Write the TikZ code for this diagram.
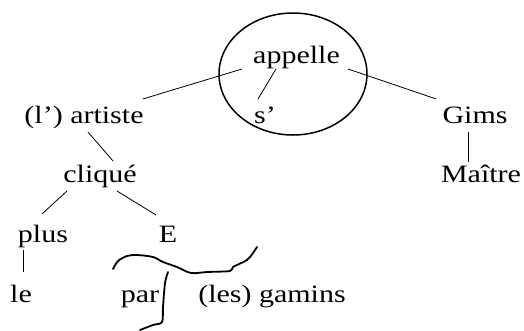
\documentclass[tikz,border=0pt]{standalone}
\usepackage{fontspec}
\setmainfont{Liberation Serif}[FakeStretch=1.2]
\begin{document}
\begin{tikzpicture}[x=1pt,y=-1pt,
  word/.style={inner sep=0pt,anchor=base,font=\fontsize{25}{30}\selectfont},
  edge/.style={line width=0.8pt},
  stroke/.style={line width=1.8pt,line cap=round,line join=round}]
\useasboundingbox (0,0) rectangle (524,330);
\fill[white] (0,0) rectangle (524,330);
\node[word] (appelle) at (296.5,63) {appelle};
\node[word] (s) at (265,123) {s’};
\node[word] (artiste) at (84,123) {(l’) artiste};
\node[word] (gims) at (475,123) {Gims};
\node[word] (cliq) at (100,182) {cliqué};
\node[word] (maitre) at (481,182) {Maître};
\node[word] (plus) at (43,242) {plus};
\node[word] (E) at (168,242) {E};
\node[word] (le) at (21,302) {le};
\node[word] (par) at (140,302) {par};
\node[word] (gamins) at (272,302) {(les) gamins};
\coordinate (oc) at (293,74);
\draw[line width=1.5pt] (oc) ellipse [x radius=74pt, y radius=61pt];
\draw[edge] ([shift={(-11pt,-6pt)}]appelle.base west) -- ([shift={(-1pt,24pt)}]artiste.base east);
\draw[edge] ([shift={(8pt,-6pt)}]appelle.base east) -- ([shift={(-6pt,24pt)}]gims.base west);
\draw[edge] ([shift={(-20.5pt,-6pt)}]appelle.base) -- ([shift={(-7pt,24pt)}]s.base);
\draw[edge] ([shift={(4pt,-9pt)}]artiste.base) -- ([shift={(13pt,21pt)}]cliq.base);
\draw[edge] ([shift={(-7pt,-9pt)}]gims.base) -- ([shift={(-13pt,20pt)}]maitre.base);
\draw[edge] ([shift={(-33pt,-9pt)}]cliq.base) -- ([shift={(-1pt,28pt)}]plus.base);
\draw[edge] ([shift={(17pt,-9pt)}]cliq.base) -- ([shift={(-12pt,27pt)}]E.base);
\draw[edge] ([shift={(-20pt,-8pt)}]plus.base) -- ([shift={(2pt,30pt)}]le.base);
\draw[stroke] plot[smooth,tension=0.5] coordinates {(113,269) (118,261) (127,256) (137,255) (153,257) (163,262) (177,267) (191,273) (207,272) (230,271) (233,267) (247,260) (253,253) (257,247)};
\draw[stroke] plot[smooth,tension=0.5] coordinates {(168,272) (165,283) (163,307) (162,322) (153,325) (140,330)};
\end{tikzpicture}
\end{document}
